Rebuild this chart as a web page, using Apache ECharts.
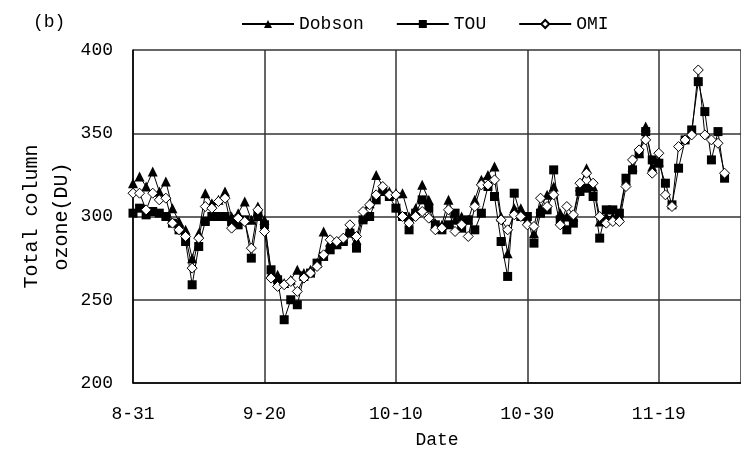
<!DOCTYPE html>
<html>
<head>
<meta charset="utf-8">
<script src="https://cdn.jsdelivr.net/npm/echarts@6/dist/echarts.min.js"></script>
<style>
  html, body { margin: 0; padding: 0; background: #fff; }
  #chart { width: 741px; height: 458px; }
</style>
</head>
<body>
<div id="chart"></div>
<script>
// day index 0 = 8-31
const tickLabels = ['8-31', '9-20', '10-10', '10-30', '11-19'];

const tou = [
  302, 305, 301, 303, 302, 300, 296, 292, 285, 259, 282,
  297, 300, 300, 300, 297, 295, 298, 275, 300, 295,
  268, 262, 238, 250, 247, 264, 266, 272, 276, 280,
  283, 285, 290, 281, 298, 300, 310, 315, 312, 305,
  300, 292, 302, 310, 305, 295, 292, 295, 302, 293,
  298, 292, 302, 318, 312, 285, 264, 314, 300, 300,
  284, 302, 304, 328, 298, 292, 296, 315, 317, 312,
  287, 304, 304, 302, 323, 328, 338, 351, 334, 332,
  320, 307, 329, 346, 352, 381, 363, 334, 351, 323
];

const omi = [
  314, 314, 304, 314, 310, 311, 296, 292, 288, 269, 287,
  306, 305, 309, 311, 293, 299, 297, 281, 304, 291,
  263, 258, 259, 261, 255, 263, 266, 270, 277, 286,
  285, 287, 295, 288, 303, 307, 313, 318, 313, 313,
  300, 296, 300, 303, 299, 292, 293, 304, 291, 295,
  288, 306, 319, 319, 322, 298, 292, 301, 300, 295,
  294, 311, 306, 313, 295, 306, 301, 320, 326, 320,
  300, 296, 297, 297, 318, 334, 340, 346, 326, 338,
  313, 306, 342, 346, 349, 388, 349, 346, 344, 326
];

const dobson = [
  320, 324, 318, 327, 315, 321, 305, 297, 292, 275, 290,
  314, 308, 310, 315, 300, 302, 309, 298, 306, 298,
  266, 265, 260, 262, 268, 266, 268, 272, 291, 285,
  284, 287, 293, 286, 300, 308, 325, 318, 315, 314,
  314, 300, 305, 319, 310, 296, 295, 310, 298, 300,
  298, 310, 322, 325, 330, 300, 278, 305, 305, 298,
  290, 305, 313, 318, 302, 300, 300, 318, 329, 318,
  297, 300, 300, 300, 322, 330, 338, 354, 330, 333
];

const toPairs = (arr) => arr.map((v, i) => [i, v]);
const font = 'Liberation Mono';

const chart = echarts.init(document.getElementById('chart'));
chart.setOption({
  backgroundColor: '#fff',
  animation: false,
  textStyle: { fontFamily: font, color: '#000' },
  title: {
    text: '(b)',
    left: 28,
    top: 8,
    textStyle: { fontFamily: font, fontSize: 18, fontWeight: 'normal', color: '#000' }
  },
  legend: {
    top: 10,
    left: 236,
    itemWidth: 52,
    itemHeight: 10,
    itemGap: 32,
    textStyle: { fontFamily: font, fontSize: 18, color: '#000' },
    data: ['Dobson', 'TOU', 'OMI']
  },
  grid: { left: 133, right: 0, top: 50, bottom: 75 },
  xAxis: {
    type: 'value',
    min: 0,
    max: 92.5,
    interval: 20,
    name: 'Date',
    nameLocation: 'middle',
    nameGap: 48,
    nameTextStyle: { fontFamily: font, fontSize: 18, color: '#000' },
    axisLine: { lineStyle: { color: '#000', width: 1.5 } },
    axisTick: { show: false },
    axisLabel: {
      fontFamily: font, fontSize: 18, color: '#000', margin: 22,
      showMaxLabel: false,
      formatter: (v) => (v % 20 === 0 ? tickLabels[v / 20] || '' : '')
    },
    splitLine: { show: true, lineStyle: { color: '#333', width: 1.5 } }
  },
  yAxis: {
    type: 'value',
    min: 200,
    max: 400,
    interval: 50,
    name: 'Total column\nozone(DU)',
    nameLocation: 'middle',
    nameRotate: 90,
    nameGap: 56,
    nameMoveOverlap: false,
    nameTextStyle: { fontFamily: font, fontSize: 20, color: '#000', lineHeight: 30 },
    axisLine: { show: true, lineStyle: { color: '#000', width: 1.5 } },
    axisTick: { show: false },
    axisLabel: { fontFamily: font, fontSize: 18, color: '#000', margin: 20 },
    splitLine: { show: true, lineStyle: { color: '#333', width: 1.5 } }
  },
  series: [
    {
      name: 'Dobson',
      type: 'line',
      data: toPairs(dobson),
      symbol: 'triangle',
      symbolSize: 10,
      itemStyle: { color: '#000' },
      lineStyle: { color: '#000', width: 1 }
    },
    {
      name: 'TOU',
      type: 'line',
      data: toPairs(tou),
      symbol: 'rect',
      symbolSize: 9,
      itemStyle: { color: '#000' },
      lineStyle: { color: '#000', width: 1 }
    },
    {
      name: 'OMI',
      type: 'line',
      data: toPairs(omi),
      symbol: 'diamond',
      symbolSize: 10,
      itemStyle: { color: '#fff', borderColor: '#000', borderWidth: 1 },
      lineStyle: { color: '#000', width: 1 }
    }
  ]
});
</script>
</body>
</html>
